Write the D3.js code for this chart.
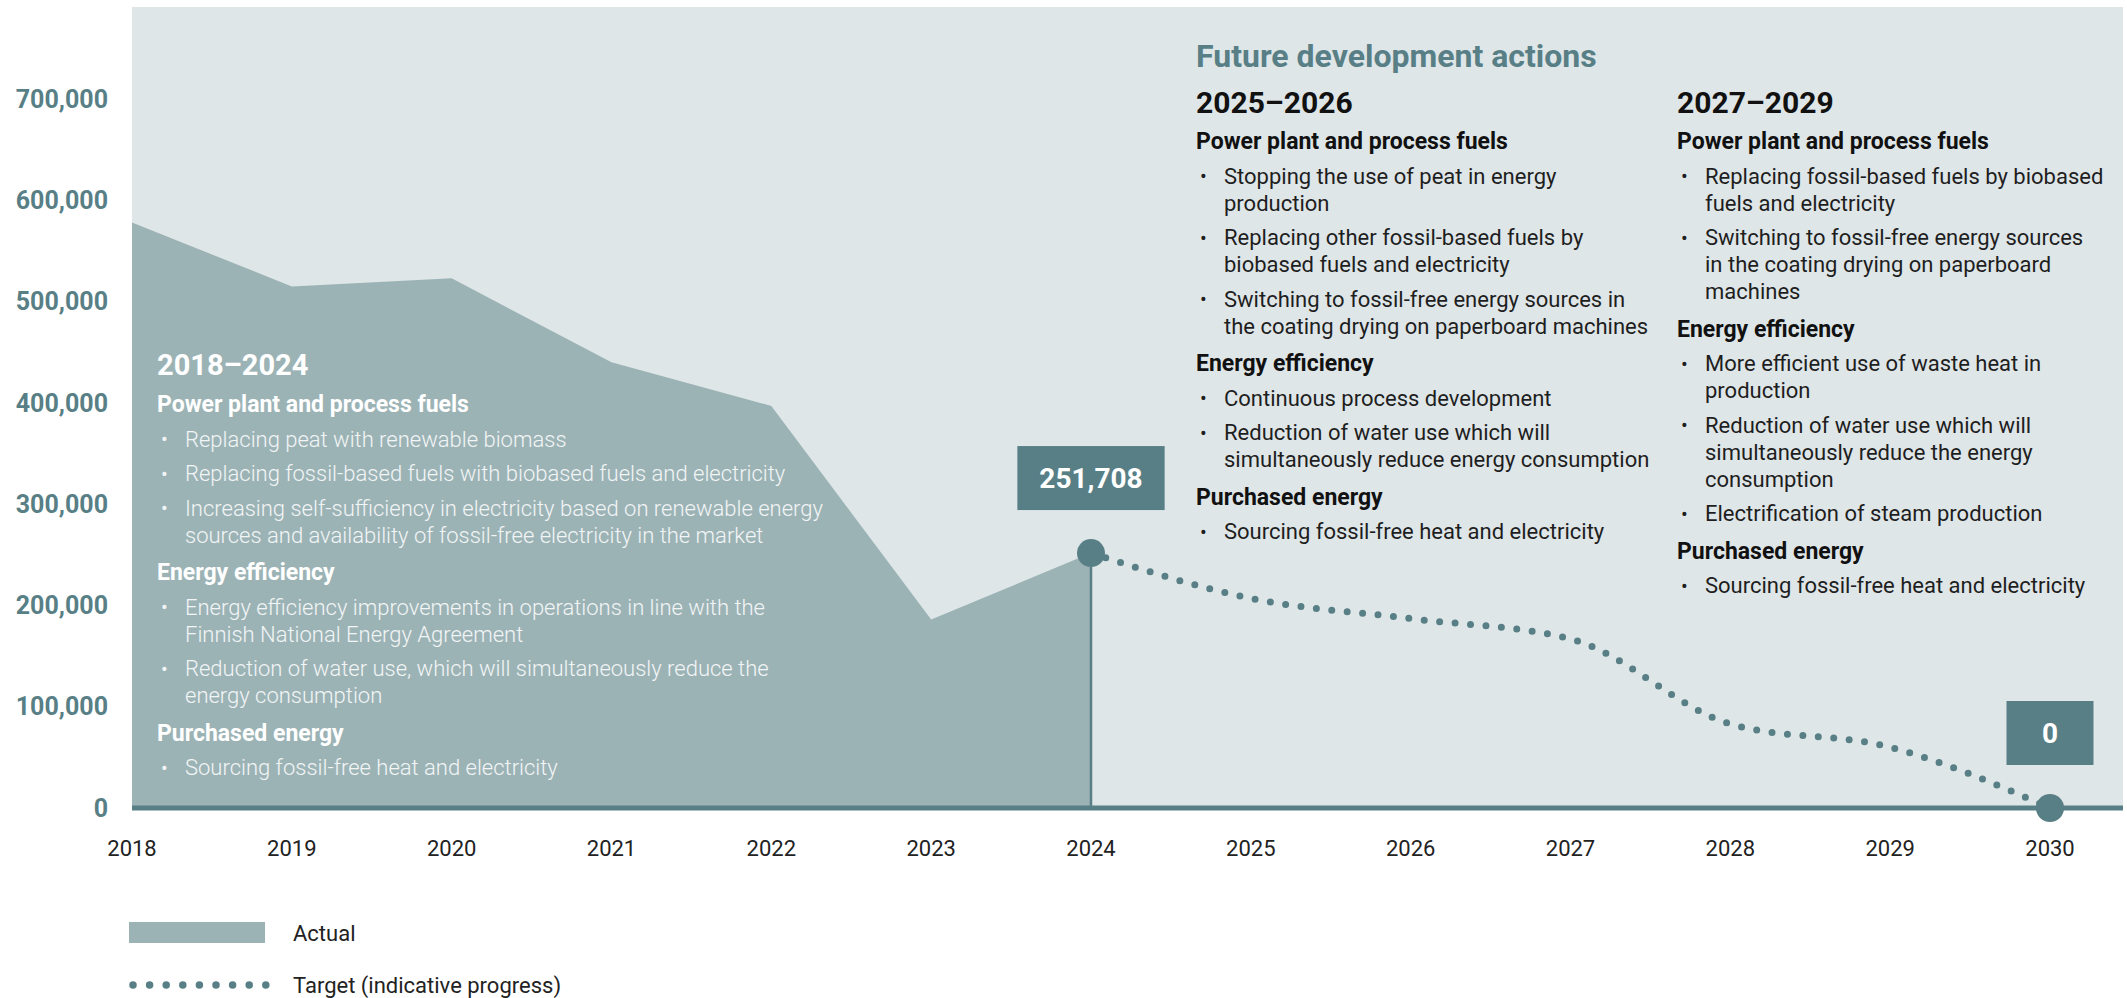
<!DOCTYPE html>
<html>
<head>
<meta charset="utf-8">
<script src="https://cdn.jsdelivr.net/npm/d3@7"></script>
<style>
  body { margin: 0; background: #fff; }
  svg { display: block; font-family: Roboto, 'Open Sans', sans-serif; }
</style>
</head>
<body>
<svg id="chart" width="2127" height="998"></svg>
<script>
// data
const years = [2018, 2019, 2020, 2021, 2022, 2023, 2024, 2025, 2026, 2027, 2028, 2029, 2030];
const actualYears = [2018, 2019, 2020, 2021, 2022, 2023, 2024];
const actualValues = [578000, 515000, 523000, 440000, 397000, 186000, 251708];
const targetYears = [2024, 2025, 2026, 2027, 2028, 2029, 2030];
const targetValues = [251708, 207000, 187000, 167000, 83000, 60000, 0];
const yTicks = [0, 100000, 200000, 300000, 400000, 500000, 600000, 700000];
const callouts = [2024, 2030];

const pastTitle = '2018–2024';
const pastActions = [
  { head: 'Power plant and process fuels', items: [
    ['Replacing peat with renewable biomass'],
    ['Replacing fossil-based fuels with biobased fuels and electricity'],
    ['Increasing self-sufficiency in electricity based on renewable energy', 'sources and availability of fossil-free electricity in the market']
  ]},
  { head: 'Energy efficiency', items: [
    ['Energy efficiency improvements in operations in line with the', 'Finnish National Energy Agreement'],
    ['Reduction of water use, which will simultaneously reduce the', 'energy consumption']
  ]},
  { head: 'Purchased energy', items: [
    ['Sourcing fossil-free heat and electricity']
  ]}
];

const futureTitle = 'Future development actions';
const futureCols = ['2025–2026', '2027–2029'];
const futureActions = [
  [
    { head: 'Power plant and process fuels', items: [
      ['Stopping the use of peat in energy', 'production'],
      ['Replacing other fossil-based fuels by', 'biobased fuels and electricity'],
      ['Switching to fossil-free energy sources in', 'the coating drying on paperboard machines']
    ]},
    { head: 'Energy efficiency', items: [
      ['Continuous process development'],
      ['Reduction of water use which will', 'simultaneously reduce energy consumption']
    ]},
    { head: 'Purchased energy', items: [
      ['Sourcing fossil-free heat and electricity']
    ]}
  ],
  [
    { head: 'Power plant and process fuels', items: [
      ['Replacing fossil-based fuels by biobased', 'fuels and electricity'],
      ['Switching to fossil-free energy sources', 'in the coating drying on paperboard', 'machines']
    ]},
    { head: 'Energy efficiency', items: [
      ['More efficient use of waste heat in', 'production'],
      ['Reduction of water use which will', 'simultaneously reduce the energy', 'consumption'],
      ['Electrification of steam production']
    ]},
    { head: 'Purchased energy', items: [
      ['Sourcing fossil-free heat and electricity']
    ]}
  ]
];

const legendItems = ['Actual', 'Target (indicative progress)'];

const teal = '#587f86';
const areaColor = '#9cb3b6';
const bgColor = '#dfe6e8';

const svg = d3.select('#chart');

const x = d3.scaleLinear().domain([2018, 2030]).range([132, 2050]);
const y = d3.scaleLinear().domain([0, 700000]).range([808, 99]);
const fmt = d3.format(',');

// plot background
svg.append('rect')
  .attr('x', x(2018))
  .attr('y', 7)
  .attr('width', 2123 - x(2018))
  .attr('height', y(0) - 7)
  .attr('fill', bgColor);

// actual emissions area
const area = d3.area()
  .x((d, i) => x(actualYears[i]))
  .y0(y(0))
  .y1(d => y(d));

svg.append('path')
  .datum(actualValues)
  .attr('d', area)
  .attr('fill', areaColor);

// y axis labels
svg.append('g')
  .selectAll('text')
  .data(yTicks)
  .join('text')
  .attr('x', 108)
  .attr('y', d => y(d))
  .attr('dy', '0.35em')
  .attr('text-anchor', 'end')
  .attr('font-size', '25px')
  .attr('font-weight', 'bold')
  .attr('fill', teal)
  .text(d => fmt(d));

// x axis labels
svg.append('g')
  .selectAll('text')
  .data(years)
  .join('text')
  .attr('x', d => x(d))
  .attr('y', 848)
  .attr('dy', '0.35em')
  .attr('text-anchor', 'middle')
  .attr('font-size', '22px')
  .attr('fill', '#222')
  .text(d => d);

// text block helper
const drawBlock = (g, x0, y0, sections, opts) => {
  let cy = y0;
  sections.forEach((s, si) => {
    if (si > 0) cy += 37;
    g.append('text')
      .attr('x', x0)
      .attr('y', cy)
      .attr('dy', '0.35em')
      .attr('font-size', '23px')
      .attr('font-weight', 'bold')
      .attr('fill', opts.headColor)
      .text(s.head);
    s.items.forEach((lines, ii) => {
      cy += ii === 0 ? 35 : 34.5;
      g.append('text')
        .attr('x', x0 + 4)
        .attr('y', cy)
        .attr('dy', '0.35em')
        .attr('font-size', '20px')
        .attr('fill', opts.textColor)
        .text('•');
      lines.forEach((l, li) => {
        if (li > 0) cy += 27;
        g.append('text')
          .attr('x', x0 + 28)
          .attr('y', cy)
          .attr('dy', '0.35em')
          .attr('font-size', '22px')
          .attr('font-weight', opts.textWeight)
          .attr('fill', opts.textColor)
          .text(l);
      });
    });
  });
};

// 2018–2024 block inside the area
const past = svg.append('g');
past.append('text')
  .attr('x', 157)
  .attr('y', 365)
  .attr('dy', '0.35em')
  .attr('font-size', '29px')
  .attr('font-weight', 'bold')
  .attr('fill', '#fff')
  .text(pastTitle);
drawBlock(past, 157, 404, pastActions, { headColor: '#fff', textColor: '#f2f5f5', textWeight: 300 });

// future actions
const future = svg.append('g');
future.append('text')
  .attr('x', 1196)
  .attr('y', 56)
  .attr('dy', '0.35em')
  .attr('font-size', '32px')
  .attr('font-weight', 'bold')
  .attr('fill', teal)
  .text(futureTitle);

const colX = [1196, 1677];
futureCols.forEach((c, i) => {
  future.append('text')
    .attr('x', colX[i])
    .attr('y', 102)
    .attr('dy', '0.35em')
    .attr('font-size', '30px')
    .attr('font-weight', 'bold')
    .attr('fill', '#111')
    .text(c);
  drawBlock(future, colX[i], 141, futureActions[i], { headColor: '#111', textColor: '#1e1e1e', textWeight: 400 });
});

// x axis baseline
svg.append('line')
  .attr('x1', x(2018))
  .attr('x2', 2123)
  .attr('y1', y(0))
  .attr('y2', y(0))
  .attr('stroke', teal)
  .attr('stroke-width', 5);

// drop line at 2024
svg.append('line')
  .attr('x1', x(2024))
  .attr('x2', x(2024))
  .attr('y1', y(actualValues[actualValues.length - 1]))
  .attr('y2', y(0))
  .attr('stroke', teal)
  .attr('stroke-width', 2.5);

// target dotted line
const line = d3.line()
  .x((d, i) => x(targetYears[i]))
  .y(d => y(d))
  .curve(d3.curveMonotoneX);

svg.append('path')
  .datum(targetValues)
  .attr('d', line)
  .attr('fill', 'none')
  .attr('stroke', teal)
  .attr('stroke-width', 7)
  .attr('stroke-linecap', 'round')
  .attr('stroke-dasharray', '0 15.5');

// callout points and boxes
const valueAt = yr => targetValues[targetYears.indexOf(yr)];

svg.append('g')
  .selectAll('circle')
  .data(callouts)
  .join('circle')
  .attr('cx', d => x(d))
  .attr('cy', d => y(valueAt(d)))
  .attr('r', 14)
  .attr('fill', teal);

const boxes = svg.append('g')
  .selectAll('g')
  .data(callouts)
  .join('g')
  .attr('transform', d => `translate(${x(d)}, ${y(valueAt(d)) - 43})`);

boxes.append('text')
  .attr('x', 0)
  .attr('y', -32)
  .attr('dy', '0.35em')
  .attr('text-anchor', 'middle')
  .attr('font-size', '28px')
  .attr('font-weight', 'bold')
  .attr('fill', '#fff')
  .text(d => fmt(valueAt(d)));

boxes.each(function() {
  const g = d3.select(this);
  const w = Math.max(g.select('text').node().getComputedTextLength() + 44, 87);
  g.insert('rect', 'text')
    .attr('x', -w / 2)
    .attr('y', -64)
    .attr('width', w)
    .attr('height', 64)
    .attr('fill', teal);
});

// legend
const legend = svg.append('g');
legend.append('rect')
  .attr('x', 129)
  .attr('y', 922)
  .attr('width', 136)
  .attr('height', 21)
  .attr('fill', areaColor);
legend.append('line')
  .attr('x1', 133)
  .attr('x2', 133 + 8 * 16.6 + 1)
  .attr('y1', 985)
  .attr('y2', 985)
  .attr('stroke', teal)
  .attr('stroke-width', 7.5)
  .attr('stroke-linecap', 'round')
  .attr('stroke-dasharray', '0 16.6');
legend.selectAll('.legendText')
  .data(legendItems)
  .join('text')
  .attr('class', 'legendText')
  .attr('x', 293)
  .attr('y', (d, i) => 933 + i * 52)
  .attr('dy', '0.35em')
  .attr('font-size', '22px')
  .attr('fill', '#222')
  .text(d => d);
</script>
</body>
</html>
